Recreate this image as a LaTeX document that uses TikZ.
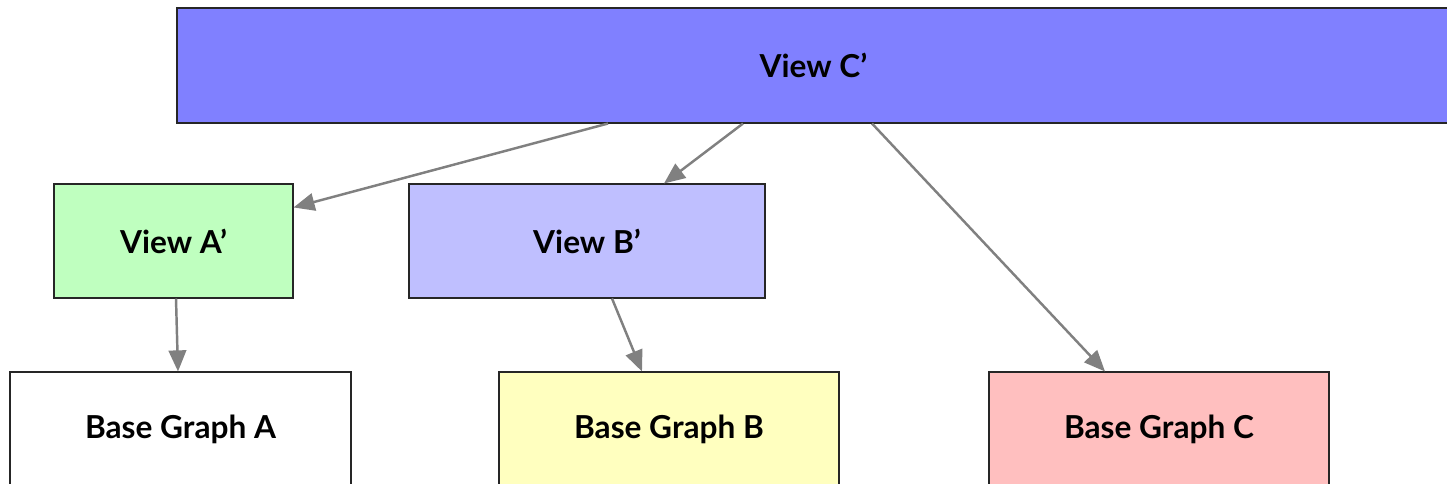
\documentclass[tikz,border=0pt]{standalone}
\usepackage{fontspec}
\setmainfont{Lato}
\usetikzlibrary{arrows.meta}

\definecolor{violetC}{HTML}{8080FF}
\definecolor{vertA}{HTML}{BFFFBF}
\definecolor{violetB}{HTML}{BFBFFF}
\definecolor{jauneB}{HTML}{FFFFBF}
\definecolor{rougeC}{HTML}{FFBFBF}
\definecolor{gris}{HTML}{808080}

\begin{document}
\begin{tikzpicture}[
    boite/.style={draw=black!85, line width=0.6pt, minimum height=2.28cm,
        font=\fontsize{18}{21}\selectfont\bfseries},
    lien/.style={draw=gris, line width=1.4pt, -{Triangle[length=12pt,width=10pt]}}
]
    \useasboundingbox (0,0) rectangle (28.94,9.68);
    \clip (0,0) rectangle (28.94,9.68);

    % Vue du haut
    \node[boite, fill=violetC, minimum width=25.46cm, minimum height=2.3cm] (vc) at (16.27,8.37) {View C’};

    % Vues intermediaires
    \node[boite, fill=vertA, minimum width=4.78cm] (va) at (3.47,4.86) {View A’};
    \node[boite, fill=violetB, minimum width=7.12cm] (vb) at (11.74,4.86) {View B’};

    % Graphes de base
    \node[boite, fill=white, minimum width=6.82cm, minimum height=2.3cm] (ga) at (3.61,1.09) {Base Graph A};
    \node[boite, fill=jauneB, minimum width=6.8cm, minimum height=2.3cm] (gb) at (13.38,1.09) {Base Graph B};
    \node[boite, fill=rougeC, minimum width=6.8cm, minimum height=2.3cm] (gc) at (23.18,1.09) {Base Graph C};

    % Fleches
    \draw[lien] ([xshift=-4.11cm]vc.south) -- ([yshift=-0.48cm]va.north east);
    \draw[lien] ([xshift=-1.41cm]vc.south) -- ([xshift=1.54cm]vb.north);
    \draw[lien] ([xshift=1.17cm]vc.south) -- ([xshift=-1.08cm]gc.north);
    \draw[lien] ([xshift=0.05cm]va.south) -- ([xshift=-0.05cm]ga.north);
    \draw[lien] ([xshift=0.5cm]vb.south) -- ([xshift=-0.54cm]gb.north);
\end{tikzpicture}
\end{document}
